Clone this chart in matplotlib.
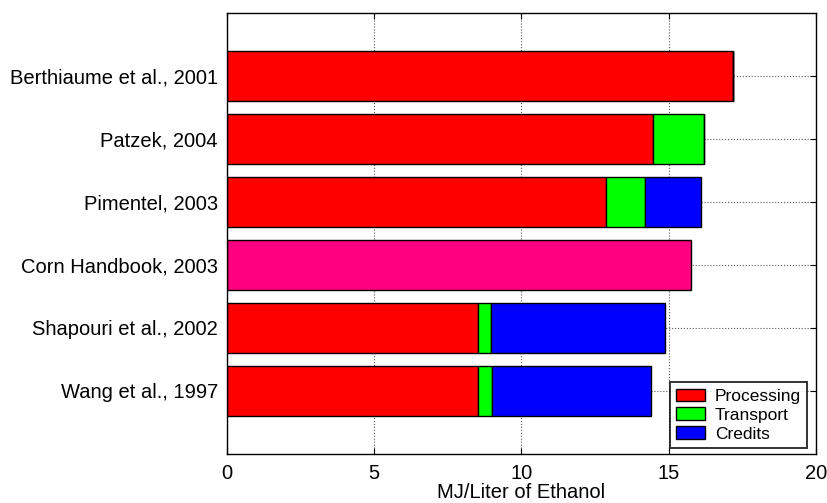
import numpy as np
import matplotlib.pyplot as plt

plt.rcParams['font.family'] = ['Liberation Sans', 'DejaVu Sans']

# bottom to top
studies = ['Wang et al., 1997', 'Shapouri et al., 2002', 'Corn Handbook, 2003',
           'Pimentel, 2003', 'Patzek, 2004', 'Berthiaume et al., 2001']
processing = [8.54, 8.54, 0.0, 12.86, 14.45, 17.19]
transport = [0.45, 0.44, 0.0, 1.32, 1.74, 0.0]
credits = [5.40, 5.91, 0.0, 1.90, 0.0, 0.0]
handbook_total = [0.0, 0.0, 15.76, 0.0, 0.0, 0.0]

fig = plt.figure(figsize=(8.28, 5.03), dpi=100)
ax = fig.add_axes([0.274, 0.0975, 0.7115, 0.8765])

y = np.arange(1, len(studies) + 1)
h = 0.8
ax.set_axisbelow(True)
ax.grid(True, linestyle=':', color='0.35', linewidth=0.8)

p = np.array(processing)
t = np.array(transport)
c = np.array(credits)
kw = dict(height=h, edgecolor='black', linewidth=1.0)
b1 = ax.barh(y, p, color='#ff0000', label='Processing', **kw)
b2 = ax.barh(y, t, left=p, color='#00ff00', label='Transport', **kw)
b3 = ax.barh(y, c, left=p + t, color='#0000ff', label='Credits', **kw)
hb = np.array(handbook_total)
mask = hb > 0
ax.barh(y[mask], hb[mask], color='#ff0080', **kw)

ax.set_xlim(0, 20)
ax.set_ylim(0, 7)
ax.set_xticks([0, 5, 10, 15, 20])
ax.set_yticks(y)
ax.set_yticklabels(studies)
ax.tick_params(axis='both', labelsize=14.5, direction='in', top=True, right=True,
               length=4)
ax.tick_params(axis='x', pad=7.5)
ax.tick_params(axis='y', pad=6.5)
ax.set_xlabel('MJ/Liter of Ethanol', fontsize=14.5, labelpad=0)
for s in ax.spines.values():
    s.set_linewidth(1.0)

leg = ax.legend(handles=[b1, b2, b3], loc='lower right',
                bbox_to_anchor=(0.985, 0.0136), fontsize=12.5,
                frameon=True, fancybox=False, edgecolor='black',
                borderaxespad=0.0, handlelength=1.67, handleheight=0.75,
                handletextpad=0.55, labelspacing=0.2, borderpad=0.36)
leg.get_frame().set_linewidth(1.4)

fig.savefig('out.png', dpi=100)
